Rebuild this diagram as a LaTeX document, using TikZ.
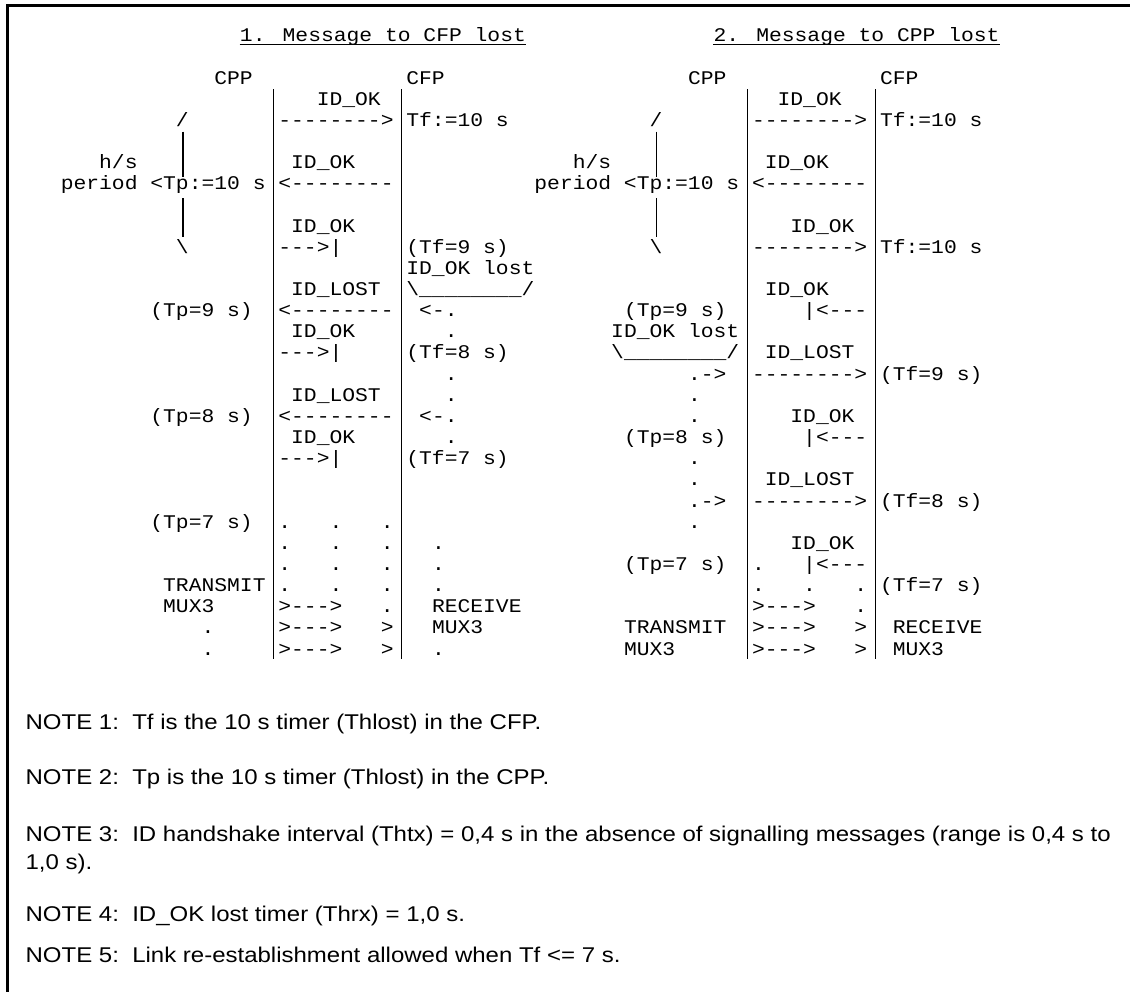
\documentclass[tikz,border=0pt]{standalone}
\usepackage{fontspec}
\setmainfont{Liberation Sans}
\newfontfamily\monofont[Ligatures=TeXOff]{Liberation Mono}
\usepackage{tikz}

\tikzset{
  asc/.style={anchor=base west, inner sep=0pt, xscale=1.1034, font=\monofont\fontsize{14.5}{14.5}\selectfont},
  notetext/.style={anchor=base west, inner sep=0pt, xscale=1.125, font=\fontsize{16}{19}\selectfont},
  lifeline/.style={line width=0.8pt},
}

\begin{document}
\begin{tikzpicture}[x=9.6pt,y=-15.8625pt]
    \useasboundingbox (-4.7266,-1.97163) rectangle (83.633,44.9314);

    % Frame
    \draw[line width=2.25pt] (-4.164,44.93) -- (-4.164,-1.721) -- (83.55,-1.721);

    % Titles
    \node[asc] (titleA) at (14,0) {1. Message to CFP lost};
    \node[asc] (titleB) at (51,0) {2. Message to CPP lost};
    \draw[line width=0.6pt] ([yshift=-2.2pt]titleA.base west) -- ([yshift=-2.2pt]titleA.base east);
    \draw[line width=0.6pt] ([yshift=-2.2pt]titleB.base west) -- ([yshift=-2.2pt]titleB.base east);

    % Lifelines
    \foreach \x/\n in {16.66/LA, 26.66/RA, 53.66/LB, 63.66/RB} {
        \coordinate (\n top) at (\x,2.25);
        \coordinate (\n bot) at (\x,29.19);
        \draw[lifeline] (\n top) -- (\n bot);
    }

    % h/s period brackets
    \foreach \s/\n in {0/A, 37/B} {
        \node[asc] (open\n) at (9+\s,4) {/};
        \node[asc] (close\n) at (9+\s,10) {\textbackslash};
        \node[asc] (hs\n) at (3+\s,6) {h/s};
        \node[asc] (period\n) at (0+\s,7) {period <Tp:=10 s};
        \coordinate (b1\n) at (9.57+\s,4.255);
        \coordinate (b2\n) at (9.57+\s,6.383);
        \coordinate (b3\n) at (9.57+\s,7.404);
        \coordinate (b4\n) at (9.57+\s,9.22);
        \draw[lifeline] (b1\n) -- (b2\n);
        \draw[lifeline] (b3\n) -- (b4\n);
        \node[asc] (cpp\n) at (12+\s,2) {CPP};
        \node[asc] (cfp\n) at (27+\s,2) {CFP};
        \node[asc] (tfa\n) at (27+\s,4) {Tf:=10 s};
        \node[asc] (lfa\n) at (17+\s,4) {-------->};
        \node[asc] (lfb\n) at (17+\s,7) {<--------};
    }

    % 1. Message to CFP lost
    \node[asc] (okA1) at (20,3) {ID\_OK};
    \node[asc] (okA2) at (18,6) {ID\_OK};
    \node[asc] (okA3) at (18,9) {ID\_OK};
    \node[asc] (shA1) at (17,10) {--->|};
    \node[asc] (tfA9) at (27,10) {(Tf=9 s)};
    \node[asc] (lostA) at (27,11) {ID\_OK lost};
    \node[asc] (lsA1) at (18,12) {ID\_LOST};
    \node[asc] (brA) at (27,12) {\textbackslash\_\_\_\_\_\_\_\_/};
    \node[asc] (tpA9) at (7,13) {(Tp=9 s)};
    \node[asc] (bkA1) at (17,13) {<--------};
    \node[asc] (rtA1) at (28,13) {<-.};
    \node[asc] (okA4) at (18,14) {ID\_OK};
    \node[asc] (shA2) at (17,15) {--->|};
    \node[asc] (tfA8) at (27,15) {(Tf=8 s)};
    \node[asc] (lsA2) at (18,17) {ID\_LOST};
    \node[asc] (tpA8) at (7,18) {(Tp=8 s)};
    \node[asc] (bkA2) at (17,18) {<--------};
    \node[asc] (rtA2) at (28,18) {<-.};
    \node[asc] (okA5) at (18,19) {ID\_OK};
    \node[asc] (shA3) at (17,20) {--->|};
    \node[asc] (tfA7) at (27,20) {(Tf=7 s)};
    \foreach \r in {14,16,17,19} \node[asc] (dtA\r) at (30,\r) {.};
    \node[asc] (tpA7) at (7,23) {(Tp=7 s)};
    \foreach \r in {23,24,25,26} \foreach \c in {17,21,25} \node[asc] (dA\r-\c) at (\c,\r) {.};
    \foreach \r in {24,25,26,29} \node[asc] (dA\r-29) at (29,\r) {.};
    \node[asc] (txA1) at (8,26) {TRANSMIT};
    \node[asc] (txA2) at (8,27) {MUX3};
    \node[asc] (rxA1) at (29,27) {RECEIVE};
    \node[asc] (rxA2) at (29,28) {MUX3};
    \node[asc] (dA27-25) at (25,27) {.};
    \foreach \r in {27,28,29} \node[asc] (muxA\r) at (17,\r) {>--->};
    \foreach \r in {28,29} {
        \node[asc] (gtA\r) at (25,\r) {>};
        \node[asc] (dA\r-11) at (11,\r) {.};
    }

    % 2. Message to CPP lost
    \node[asc] (okB1) at (56,3) {ID\_OK};
    \node[asc] (okB2) at (55,6) {ID\_OK};
    \node[asc] (okB3) at (57,9) {ID\_OK};
    \node[asc] (lfB3) at (54,10) {-------->};
    \node[asc] (tfB10) at (64,10) {Tf:=10 s};
    \node[asc] (okB4) at (55,12) {ID\_OK};
    \node[asc] (tpB9) at (44,13) {(Tp=9 s)};
    \node[asc] (bkB1) at (58,13) {|<---};
    \node[asc] (lostB) at (43,14) {ID\_OK lost};
    \node[asc] (brB) at (43,15) {\textbackslash\_\_\_\_\_\_\_\_/};
    \node[asc] (lsB1) at (55,15) {ID\_LOST};
    \node[asc] (rtB1) at (49,16) {.->};
    \node[asc] (fwB1) at (54,16) {-------->};
    \node[asc] (tfB9) at (64,16) {(Tf=9 s)};
    \node[asc] (okB5) at (57,18) {ID\_OK};
    \node[asc] (tpB8) at (44,19) {(Tp=8 s)};
    \node[asc] (bkB2) at (58,19) {|<---};
    \node[asc] (lsB2) at (55,21) {ID\_LOST};
    \node[asc] (rtB2) at (49,22) {.->};
    \node[asc] (fwB2) at (54,22) {-------->};
    \node[asc] (tfB8) at (64,22) {(Tf=8 s)};
    \foreach \r in {17,18,20,21,23} \node[asc] (dtB\r) at (49,\r) {.};
    \node[asc] (okB6) at (57,24) {ID\_OK};
    \node[asc] (tpB7) at (44,25) {(Tp=7 s)};
    \node[asc] (dB25) at (54,25) {.};
    \node[asc] (bkB3) at (58,25) {|<---};
    \foreach \c in {54,58,62} \node[asc] (dB26-\c) at (\c,26) {.};
    \node[asc] (tfB7) at (64,26) {(Tf=7 s)};
    \node[asc] (dB27) at (62,27) {.};
    \foreach \r in {27,28,29} \node[asc] (muxB\r) at (54,\r) {>--->};
    \foreach \r in {28,29} \node[asc] (gtB\r) at (62,\r) {>};
    \node[asc] (txB1) at (44,28) {TRANSMIT};
    \node[asc] (txB2) at (44,29) {MUX3};
    \node[asc] (rxB1) at (65,28) {RECEIVE};
    \node[asc] (rxB2) at (65,29) {MUX3};

    % Notes
    \node[notetext] (n1lab) at (-2.75,32.52) {NOTE 1:};
    \node[notetext] (n1) at (5.586,32.52) {Tf is the 10 s timer (Thlost) in the CFP.};
    \node[notetext] (n2lab) at (-2.75,35.14) {NOTE 2:};
    \node[notetext] (n2) at (5.586,35.14) {Tp is the 10 s timer (Thlost) in the CPP.};
    \node[notetext] (n3lab) at (-2.75,37.82) {NOTE 3:};
    \node[notetext] (n3) at (5.586,37.82) {ID handshake interval (Thtx) = 0,4 s in the absence of signalling messages (range is 0,4 s to};
    \node[notetext] (n3b) at (-2.75,39.16) {1,0 s).};
    \node[notetext] (n4lab) at (-2.75,41.61) {NOTE 4:};
    \node[notetext] (n4) at (5.586,41.61) {ID\_OK lost timer (Thrx) = 1,0 s.};
    \node[notetext] (n5lab) at (-2.75,43.55) {NOTE 5:};
    \node[notetext] (n5) at (5.586,43.55) {Link re-establishment allowed when Tf <= 7 s.};
\end{tikzpicture}
\end{document}
